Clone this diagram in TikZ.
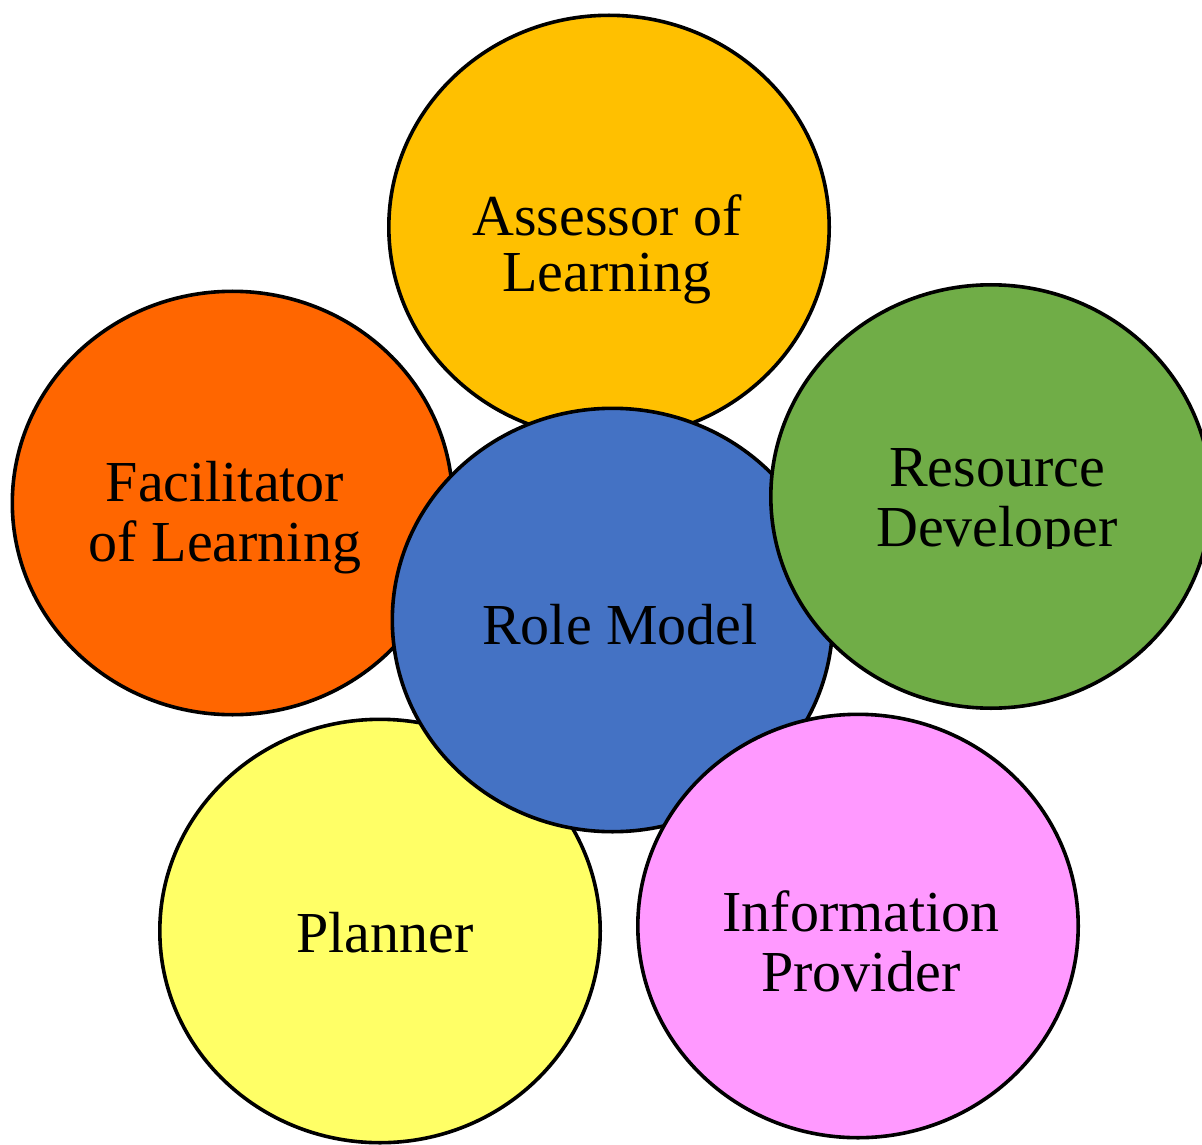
\documentclass[tikz,border=0pt]{standalone}
\usepackage{fontspec}
\setmainfont{Liberation Serif}
\usetikzlibrary{shapes.geometric}
\definecolor{cAssess}{HTML}{FFC000}
\definecolor{cFacil}{HTML}{FF6600}
\definecolor{cRes}{HTML}{70AD47}
\definecolor{cPlan}{HTML}{FFFF66}
\definecolor{cInfo}{HTML}{FF99FF}
\definecolor{cRole}{HTML}{4472C4}
\begin{document}
\begin{tikzpicture}[x=0.5pt,y=-0.5pt,
  role/.style={ellipse, draw=black, line width=1.8pt, inner sep=0pt,
    minimum width=220.2pt, minimum height=211.7pt},
  lbl/.style={inner sep=0pt, align=center, text=black,
    font=\fontsize{29pt}{30pt}\selectfont}]
\useasboundingbox (0,0) rectangle (1202,1144);
\node[role, fill=cAssess] (assess) at (609,227) {};
\node[role, fill=cFacil] (facil) at (232.5,503) {};
\node[role, fill=cPlan] (plan) at (380,931) {};
\node[role, fill=cRole] (rolem) at (612.5,620) {};
\node[role, fill=cRes] (res) at (991,496.5) {};
\node[role, fill=cInfo] (info) at (858,926) {};
\node[lbl, font=\fontsize{29pt}{28pt}\selectfont] (tassess) at (607,249) {Assessor of\\Learning};
\node[lbl] (tfacil) at (225,518) {Facilitator\\of Learning};
\node[lbl] (trole) at (620,625) {Role Model};
\node[lbl] (tplan) at (385,933) {Planner};
\node[lbl] (tinfo) at (861,941) {Information\\Provider};
\begin{scope}
\clip (850,400) rectangle (1150,548);
\node[lbl] (tres) at (997,504) {Resource\\Developer};
\end{scope}
\end{tikzpicture}
\end{document}
